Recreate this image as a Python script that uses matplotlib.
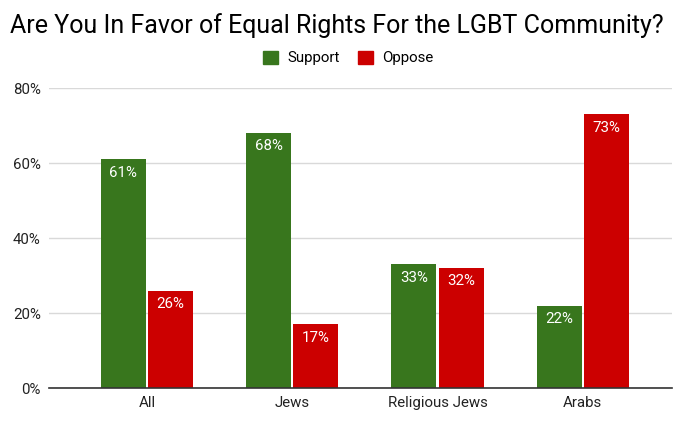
import matplotlib
matplotlib.use("Agg")
import matplotlib.pyplot as plt
from matplotlib.patches import Rectangle
import numpy as np

plt.rcParams['font.family'] = ['Roboto', 'DejaVu Sans']

categories = ["All", "Jews", "Religious Jews", "Arabs"]
support = [61, 68, 33, 22]
oppose = [26, 17, 32, 73]
series_names = ["Support", "Oppose"]
yticks = [0, 20, 40, 60, 80]
ytick_labels = ["0%", "20%", "40%", "60%", "80%"]

green = "#38761d"
red = "#cc0000"

fig = plt.figure(figsize=(6.8, 4.26), dpi=100)
ax = fig.add_axes([0.072, 0.0892, 0.916, 0.7042])

x = np.arange(len(categories))
w = 0.31
off = 0.163
b1 = ax.bar(x - off, support, w, color=green, zorder=3)
b2 = ax.bar(x + off, oppose, w, color=red, zorder=3)

for bars, vals in ((b1, support), (b2, oppose)):
    for rect, v in zip(bars, vals):
        ax.annotate(f"{v}%", (rect.get_x() + rect.get_width() / 2, v),
                    xytext=(0, -4.5), textcoords="offset points",
                    ha="center", va="top", color="white", fontsize=10.8, zorder=4)

ax.set_xlim(-0.674, 3.613)
ax.set_ylim(0, 80)
ax.set_yticks(yticks)
ax.set_yticklabels(ytick_labels)
ax.set_xticks(x)
ax.set_xticklabels(categories)
ax.tick_params(axis='both', length=0, labelsize=10.8, colors="#222222")
ax.tick_params(axis='y', pad=6)
ax.tick_params(axis='x', pad=6)
ax.grid(axis='y', color="#d9d9d9", linewidth=1, zorder=0)
for s in ("top", "right", "left"):
    ax.spines[s].set_visible(False)
ax.spines["bottom"].set_color("#333333")
ax.spines["bottom"].set_linewidth(1.2)
ax.spines["bottom"].set_zorder(5)

fig.text(0.014, 0.94, "Are You In Favor of Equal Rights For the LGBT Community?",
         fontsize=18, color="#000000", va="center", ha="left")

handles = [Rectangle((0, 0), 1, 1, color=green), Rectangle((0, 0), 1, 1, color=red)]
fig.legend(handles, series_names, loc="center", bbox_to_anchor=(0.512, 0.864),
           ncol=2, frameon=False, fontsize=10.8, handlelength=1.0, handleheight=1.0,
           columnspacing=1.2, handletextpad=0.6)

fig.savefig("out.png", dpi=100)
